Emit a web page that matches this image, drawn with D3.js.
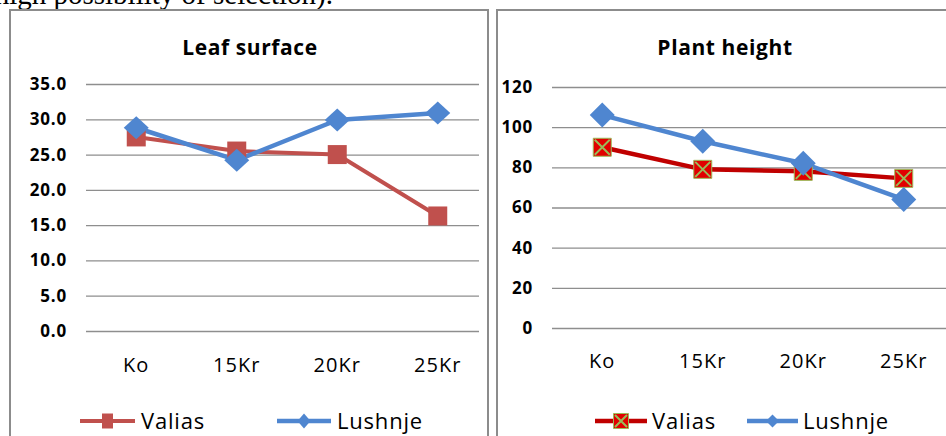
<!DOCTYPE html>
<html>
<head>
<meta charset="utf-8">
<script src="https://cdn.jsdelivr.net/npm/d3@7"></script>
<style>
  html, body { margin: 0; padding: 0; background: #fff; }
  svg { display: block; }
  .tick text { fill: #000; }
</style>
</head>
<body>
<svg id="chart" width="946" height="436"></svg>
<script>
// Treatments along the x axis
const categories = ["Ko", "15Kr", "20Kr", "25Kr"];

// Leaf surface per variety
const leafValias = [27.5, 25.5, 25.0, 16.3];
const leafLushnje = [28.8, 24.2, 29.9, 30.9];

// Plant height per variety
const heightValias = [90, 79, 78, 74.5];
const heightLushnje = [106, 93, 82, 64];

// Value-axis ticks
const leafTicks = [0, 5, 10, 15, 20, 25, 30, 35];
const heightTicks = [0, 20, 40, 60, 80, 100, 120];

const seriesNames = ["Valias", "Lushnje"];

const svg = d3.select("#chart");
const FONT = "'Open Sans', 'Noto Sans', sans-serif";

// Running text of the page above the figure (only its lower part is in view)
svg.append("text")
  .attr("x", 333).attr("y", 4)
  .attr("text-anchor", "end")
  .attr("font-family", "'Liberation Serif', 'Times New Roman', serif")
  .attr("font-size", 29)
  .attr("fill", "#000")
  .text("high possibility of selection).");

// Diamond marker as a custom d3 symbol type (w x h box)
function diamondType(w, h) {
  return {
    draw(ctx) {
      ctx.moveTo(0, -h / 2);
      ctx.lineTo(w / 2, 0);
      ctx.lineTo(0, h / 2);
      ctx.lineTo(-w / 2, 0);
      ctx.closePath();
    }
  };
}
function rectType(w, h) {
  return {
    draw(ctx) {
      ctx.rect(-w / 2, -h / 2, w, h);
    }
  };
}

const panels = [
  {
    box: [10, 10, 478, 440],
    title: "Leaf surface", titleX: 250,
    xRange: [86, 488], gridX: [86, 479],
    yDomain: [0, 35], yRange: [331, 84],
    ticks: leafTicks, fmt: d3.format(".1f"),
    xLabelY: 372,
    series: [
      { name: seriesNames[0], values: leafValias, line: "#C0504D", width: 4,
        marker: "square", fill: "#C0504D", size: [19, 19] },
      { name: seriesNames[1], values: leafLushnje, line: "#4F86D0", width: 4.5,
        marker: "diamond", fill: "#4F86D0", size: [25, 23] }
    ],
    legend: [
      { x1: 80, x2: 135, y: 421, tx: 141, msize: [11, 15] },
      { x1: 277, x2: 331, y: 421, tx: 337, msize: [13, 15] }
    ]
  },
  {
    box: [497, 10, 470, 440],
    title: "Plant height", titleX: 725,
    xRange: [552, 954], gridX: [552, 946],
    yDomain: [0, 120], yRange: [328, 87],
    ticks: heightTicks, fmt: d3.format("d"),
    xLabelY: 368,
    series: [
      { name: seriesNames[0], values: heightValias, line: "#C00000", width: 4.5,
        marker: "xsquare", fill: "#E10000", size: [18, 18] },
      { name: seriesNames[1], values: heightLushnje, line: "#4F86D0", width: 4.5,
        marker: "diamond", fill: "#4F86D0", size: [25, 25] }
    ],
    legend: [
      { x1: 595, x2: 647, y: 421, tx: 652, msize: [15, 15] },
      { x1: 747, x2: 798, y: 421, tx: 803, msize: [13, 13] }
    ]
  }
];

function drawMarker(g, s, size, x, y) {
  const [w, h] = size;
  if (s.marker === "diamond") {
    g.append("path")
      .attr("transform", `translate(${x},${y})`)
      .attr("d", d3.symbol().type(diamondType(w, h))())
      .attr("fill", s.fill);
  } else {
    g.append("path")
      .attr("transform", `translate(${x},${y})`)
      .attr("d", d3.symbol().type(rectType(w, h))())
      .attr("fill", s.fill)
      .attr("stroke", s.marker === "xsquare" ? "#9BBB59" : "none")
      .attr("stroke-width", 1);
    if (s.marker === "xsquare") {
      const a = w / 2 - 1.5, b = h / 2 - 1.5;
      g.append("path")
        .attr("transform", `translate(${x},${y})`)
        .attr("d", `M${-a},${-b}L${a},${b}M${-a},${b}L${a},${-b}`)
        .attr("stroke", "#9BBB59")
        .attr("stroke-width", 2)
        .attr("fill", "none");
    }
  }
}

panels.forEach(p => {
  const g = svg.append("g");

  // Chart frame
  g.append("rect")
    .attr("x", p.box[0]).attr("y", p.box[1])
    .attr("width", p.box[2]).attr("height", p.box[3])
    .attr("fill", "none")
    .attr("stroke", "#8C8C8C")
    .attr("stroke-width", 2);

  // Title
  g.append("text")
    .attr("x", p.titleX).attr("y", 55)
    .attr("text-anchor", "middle")
    .attr("font-family", FONT)
    .attr("font-weight", "bold")
    .attr("font-size", 21)
    .attr("letter-spacing", 0.6)
    .attr("fill", "#000")
    .text(p.title);

  const x = d3.scaleBand().domain(categories).range(p.xRange);
  const y = d3.scaleLinear().domain(p.yDomain).range(p.yRange);
  const cx = d => x(d) + x.bandwidth() / 2;

  // Value axis with gridlines
  const yAxis = g.append("g")
    .attr("transform", `translate(${p.gridX[0]},0)`)
    .call(d3.axisLeft(y)
      .tickValues(p.ticks)
      .tickFormat(p.fmt)
      .tickSize(-(p.gridX[1] - p.gridX[0]))
      .tickPadding(19));
  yAxis.select(".domain").remove();
  yAxis.selectAll(".tick line")
    .attr("stroke", "#8E8E8E")
    .attr("stroke-width", 1.3);
  yAxis.selectAll(".tick text")
    .attr("font-family", FONT)
    .attr("font-weight", "bold")
    .attr("font-size", 17)
    .attr("letter-spacing", 0.8);

  // Category axis (labels only)
  const xAxis = g.append("g")
    .attr("transform", `translate(0,${p.xLabelY})`)
    .call(d3.axisBottom(x).tickSize(0).tickPadding(0));
  xAxis.select(".domain").remove();
  xAxis.selectAll(".tick text")
    .attr("y", 0).attr("dy", 0)
    .attr("font-family", FONT)
    .attr("font-size", 20)
    .attr("letter-spacing", 1);

  // Series lines and markers
  const line = d3.line().x((d, i) => cx(categories[i])).y(d => y(d));
  p.series.forEach(s => {
    g.append("path")
      .attr("d", line(s.values))
      .attr("fill", "none")
      .attr("stroke", s.line)
      .attr("stroke-width", s.width)
      .attr("stroke-linejoin", "round");
  });
  p.series.forEach(s => {
    s.values.forEach((v, i) => drawMarker(g, s, s.size, cx(categories[i]), y(v)));
  });

  // Legend
  p.series.forEach((s, i) => {
    const L = p.legend[i];
    g.append("line")
      .attr("x1", L.x1).attr("x2", L.x2)
      .attr("y1", L.y).attr("y2", L.y)
      .attr("stroke", s.line)
      .attr("stroke-width", s.width);
    drawMarker(g, s, L.msize, (L.x1 + L.x2) / 2, L.y);
    g.append("text")
      .attr("x", L.tx).attr("y", L.y + 8)
      .attr("font-family", FONT)
      .attr("font-size", 22)
      .attr("letter-spacing", 0.8)
      .attr("fill", "#000")
      .text(s.name);
  });
});
</script>
</body>
</html>
